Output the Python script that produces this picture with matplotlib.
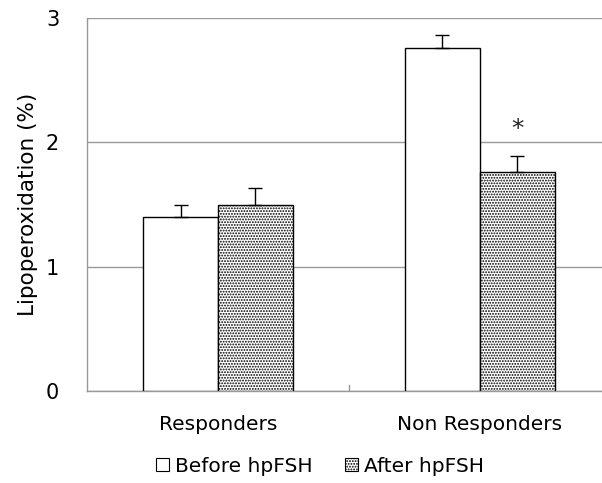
import matplotlib.pyplot as plt
from matplotlib.patches import Patch

# Dados
grupos = ['Responders', 'Non Responders']
antes = [1.40, 2.76]
antes_erro = [0.10, 0.10]
depois = [1.50, 1.76]
depois_erro = [0.13, 0.13]

plt.rcParams['font.family'] = 'DejaVu Sans'
plt.rcParams['hatch.linewidth'] = 0.9

fig = plt.figure(figsize=(6.02, 4.83), dpi=100)
ax = fig.add_axes([87 / 602, 92 / 483, 515 / 602, 373 / 483])

x = range(len(grupos))
largura = 0.286
xa = [i - largura / 2 for i in x]
xd = [i + largura / 2 for i in x]

ax.bar(xa, antes, largura, color='white', edgecolor='black', linewidth=1, zorder=3)
ax.bar(xd, depois, largura, color='white', edgecolor='black', linewidth=1,
       hatch='......', zorder=3)
ax.errorbar(xa, antes, yerr=[[0, 0], antes_erro], fmt='none', ecolor='black',
            elinewidth=1, capsize=5, capthick=1, zorder=4)
ax.errorbar(xd, depois, yerr=[[0, 0], depois_erro], fmt='none', ecolor='black',
            elinewidth=1, capsize=5, capthick=1, zorder=4)

# asterisco de significancia
ax.text(xd[1], depois[1] + depois_erro[1] + 0.22, '*', ha='center', va='center',
        fontsize=18, color='#222222')

ax.set_xlim(-0.5, 1.466)
ax.set_ylim(0, 3)
ax.set_yticks([0, 1, 2, 3])
ax.set_yticklabels(['0', '1', '2', '3'], fontsize=15)
ax.yaxis.grid(True, color='#999999', linewidth=1, zorder=0)
ax.tick_params(axis='y', length=0, pad=20)

ax.set_xticks([0, 1])
ax.set_xticklabels(grupos, fontsize=14.5)
ax.tick_params(axis='x', length=0, pad=17)
ax.axvline(0.5, ymin=0, ymax=6 / 373, color='#999999', linewidth=1)

for lado in ['top', 'right']:
    ax.spines[lado].set_visible(False)
for lado in ['left', 'bottom']:
    ax.spines[lado].set_color('#999999')
    ax.spines[lado].set_linewidth(1)

ax.set_ylabel('Lipoperoxidation (%)', fontsize=15.5, labelpad=6)

alcas = [Patch(facecolor='white', edgecolor='black', linewidth=0.8),
         Patch(facecolor='white', edgecolor='black', linewidth=0.8, hatch='......')]
fig.legend(alcas, ['Before hpFSH', 'After hpFSH'], loc='center',
           bbox_to_anchor=(320 / 602, 1 - 466 / 483), ncol=2, frameon=False,
           fontsize=14.5, handlelength=0.65, handleheight=0.65, handletextpad=0.3,
           columnspacing=1.6)

plt.savefig('out.png', dpi=100)
plt.close()
